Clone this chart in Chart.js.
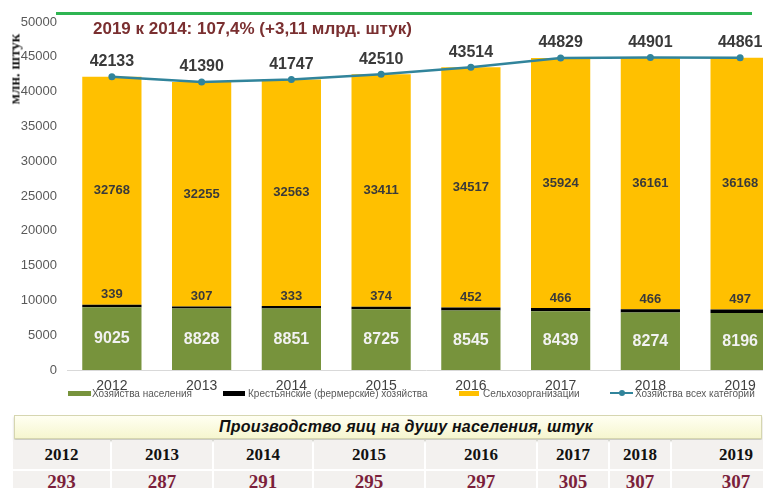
<!DOCTYPE html>
<html>
<head>
<meta charset="utf-8">
<script src="https://cdn.jsdelivr.net/npm/chart.js@4.4.1/dist/chart.umd.min.js"></script>
<style>
  html, body { margin:0; padding:0; background:#fff; }
  body { width:763px; height:488px; overflow:hidden; position:relative; font-family:"Liberation Sans", Arial, sans-serif; }
  #wrap { position:absolute; left:0; top:0; width:800px; height:410px; }
  #topline { position:absolute; left:56px; top:12px; width:696px; height:3px; background:#2fb552; }
  #title { position:absolute; left:93px; top:19px; font:bold 17px "Liberation Sans", Arial, sans-serif; color:#7a2f30; white-space:nowrap; }
  #ytitle { position:absolute; left:15px; top:69px; transform:translate(-50%,-50%) rotate(-90deg); font:bold 15px "Liberation Serif", "Times New Roman", serif; color:#1a1a1a; white-space:nowrap; }
  .leg { position:absolute; top:388px; font:10px "Liberation Sans", Arial, sans-serif; color:#595959; white-space:nowrap; }
  .sw { position:absolute; }
  #hdr { position:absolute; left:14px; top:415px; width:746px; height:22px; background:linear-gradient(#fffff2,#f6f6cf); border:1px solid #d6d6b0; box-shadow:0 2px 2px #c9c9c0; text-align:center; font:italic bold 16px "Liberation Sans Narrow", "Liberation Sans", Arial, sans-serif; line-height:22px; color:#111; }
  #hdr span { position:relative; left:18px; letter-spacing:0.2px; }
  .row { position:absolute; left:13px; display:flex; }
  .row div { background:#f3f1ef; margin-right:2px; text-align:center; font-family:"Liberation Serif", "Times New Roman", serif; font-weight:bold; }
  #yrs { top:440px; height:29px; }
  #yrs div { font-size:17px; line-height:29px; color:#111; height:29px; }
  #vals { top:471px; height:30px; }
  #vals div { font-size:19px; line-height:22px; color:#7b1f3b; height:30px; }
</style>
</head>
<body>
<div id="wrap"><canvas id="c" width="800" height="410"></canvas></div>
<div id="topline"></div>
<div id="title">2019 к 2014: 107,4% (+3,11 млрд. штук)</div>
<div id="ytitle">млн. штук</div>
<div id="legend"></div>
<div id="hdr"><span>Производство яиц на душу населения, штук</span></div>
<div class="row" id="yrs"></div>
<div class="row" id="vals"></div>
<script>
const years = ['2012','2013','2014','2015','2016','2017','2018','2019'];
const householdsPop = [9025, 8828, 8851, 8725, 8545, 8439, 8274, 8196];
const farmers = [339, 307, 333, 374, 452, 466, 466, 497];
const agroOrgs = [32768, 32255, 32563, 33411, 34517, 35924, 36161, 36168];
const allCategories = [42133, 41390, 41747, 42510, 43514, 44829, 44901, 44861];
const perCapita = [293, 287, 291, 295, 297, 305, 307, 307];
const seriesNames = ['Хозяйства населения', 'Крестьянские (фермерские) хозяйства', 'Сельхозорганизации', 'Хозяйства всех категорий'];
const colGreen = '#77933c', colBlack = '#000000', colYellow = '#ffc000', colLine = '#31849b';

// table
const colW = [97, 100, 98, 110, 110, 70, 60, 128];
const yrs = document.getElementById('yrs'), vals = document.getElementById('vals');
years.forEach((y, i) => {
  const a = document.createElement('div'); a.style.width = colW[i] + 'px'; a.textContent = y; yrs.appendChild(a);
  const b = document.createElement('div'); b.style.width = colW[i] + 'px'; b.textContent = perCapita[i]; vals.appendChild(b);
});

// legend (HTML, real text)
const legend = document.getElementById('legend');
const legItems = [
  {x:68, w:23, type:'box', color:colGreen, tx:92},
  {x:223, w:22, type:'box', color:colBlack, tx:248},
  {x:459, w:20, type:'box', color:colYellow, tx:483},
  {x:610, w:23, type:'line', color:colLine, tx:635}
];
legItems.forEach((it, i) => {
  const s = document.createElement('div'); s.className = 'sw';
  s.style.left = it.x + 'px'; s.style.width = it.w + 'px';
  if (it.type === 'box') { s.style.top = '391px'; s.style.height = '5px'; s.style.background = it.color; }
  else {
    s.style.top = '392px'; s.style.height = '2px'; s.style.background = it.color;
    const d = document.createElement('div'); d.className = 'sw';
    d.style.left = (it.x + it.w/2 - 3) + 'px'; d.style.top = '390px'; d.style.width = '6px'; d.style.height = '6px';
    d.style.borderRadius = '50%'; d.style.background = it.color; legend.appendChild(d);
  }
  legend.appendChild(s);
  const t = document.createElement('div'); t.className = 'leg'; t.style.left = it.tx + 'px'; t.textContent = seriesNames[i];
  legend.appendChild(t);
});

const labelPlugin = {
  id: 'valueLabels',
  afterDatasetsDraw(chart) {
    const ctx = chart.ctx;
    ctx.save();
    ctx.textAlign = 'center';
    ctx.textBaseline = 'middle';
    chart.data.datasets.forEach((ds, di) => {
      const meta = chart.getDatasetMeta(di);
      meta.data.forEach((el, i) => {
        const v = ds.data[i];
        if (di === 0) {
          ctx.font = 'bold 16px "Liberation Sans", Arial, sans-serif'; ctx.fillStyle = '#f2f2f2';
          ctx.fillText(v, el.x, (el.y + el.base) / 2);
        } else if (di === 1) {
          ctx.font = 'bold 13px "Liberation Sans", Arial, sans-serif'; ctx.fillStyle = '#3a3a3a';
          ctx.fillText(v, el.x, el.y - 10);
        } else if (di === 2) {
          ctx.font = 'bold 13px "Liberation Sans", Arial, sans-serif'; ctx.fillStyle = '#3a3a3a';
          ctx.fillText(v, el.x, (el.y + el.base) / 2);
        } else {
          ctx.font = 'bold 16px "Liberation Sans", Arial, sans-serif'; ctx.fillStyle = '#3a3a3a';
          ctx.fillText(v, el.x, el.y - 15);
        }
      });
    });
    ctx.restore();
  }
};

new Chart(document.getElementById('c'), {
  data: {
    labels: years,
    datasets: [
      {type:'bar', label:seriesNames[0], data:householdsPop, backgroundColor:colGreen, stack:'s', order:1},
      {type:'bar', label:seriesNames[1], data:farmers, backgroundColor:colBlack, stack:'s', order:1},
      {type:'bar', label:seriesNames[2], data:agroOrgs, backgroundColor:colYellow, stack:'s', order:1},
      {type:'line', label:seriesNames[3], data:allCategories, borderColor:colLine, backgroundColor:colLine,
        borderWidth:2.5, pointRadius:3.5, pointBackgroundColor:colLine, pointBorderWidth:0, tension:0, order:0}
    ]
  },
  options: {
    responsive:false,
    animation:false,
    layout:{ padding:{ left:0, right:15, top:22, bottom:0 } },
    datasets:{ bar:{ categoryPercentage:1, barPercentage:0.66 } },
    plugins:{ legend:{ display:false }, tooltip:{ enabled:false } },
    scales:{
      x:{
        stacked:true,
        grid:{ display:false, drawTicks:false },
        border:{ display:true, color:'#d9d9d9', width:1 },
        ticks:{ color:'#404040', font:{ size:14, family:'"Liberation Sans", Arial, sans-serif' }, padding:8, maxRotation:0 },
        afterFit(s){ s.height = 40; }
      },
      y:{
        stacked:true, min:0, max:50000,
        grid:{ display:false, drawTicks:false },
        border:{ display:false },
        ticks:{ stepSize:5000, color:'#595959', font:{ size:13, family:'"Liberation Sans", Arial, sans-serif' }, padding:10,
          callback:(v) => String(v) },
        afterFit(s){ s.width = 67; }
      }
    }
  },
  plugins:[labelPlugin]
});
</script>
</body>
</html>
